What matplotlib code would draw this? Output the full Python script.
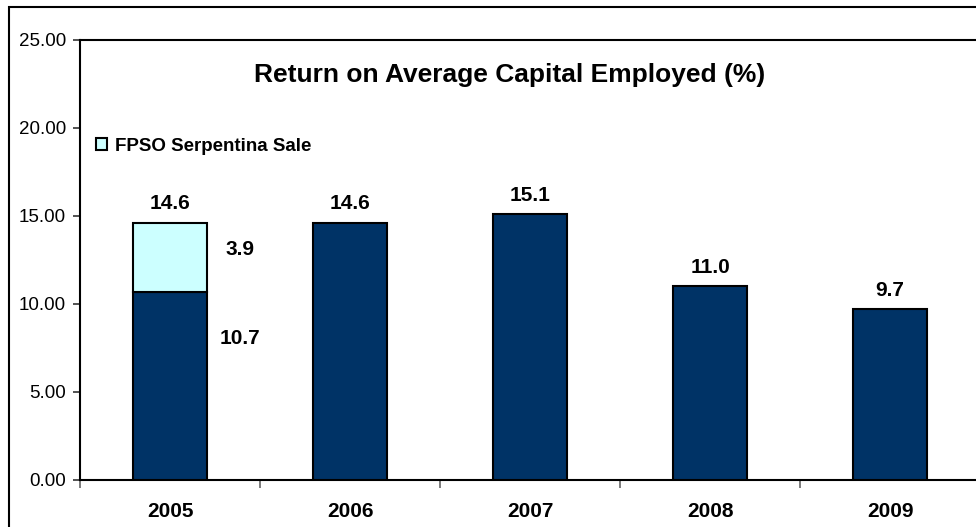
import matplotlib.pyplot as plt
from matplotlib.patches import Rectangle
import numpy as np

plt.rcParams['font.family'] = ['Liberation Sans', 'DejaVu Sans']

# Return on average capital employed, %
years = ['2005', '2006', '2007', '2008', '2009']
roace = [10.7, 14.6, 15.1, 11.0, 9.7]      # underlying return
serpentina = [3.9, 0, 0, 0, 0]             # one-off from FPSO Serpentina sale
totals = [14.6, 14.6, 15.1, 11.0, 9.7]
legend_label = 'FPSO Serpentina Sale'

navy = '#003366'
cyan = '#CCFFFF'

W, H = 976, 527
fig = plt.figure(figsize=(W / 100, H / 100), dpi=100)

# plot area runs past the right edge of the canvas
ax = fig.add_axes([80 / W, 1 - 480 / H, 900 / W, 440 / H])

x = np.arange(len(years))
bar_w = 0.41
base = ax.bar(x, roace, bar_w, color=navy, edgecolor='black', linewidth=1.5, zorder=3)
sale = ax.bar(x[:1], serpentina[:1], bar_w, bottom=roace[:1], color=cyan,
              edgecolor='black', linewidth=1.5, zorder=3, label=legend_label)

ax.set_xlim(-0.5, len(years) - 0.5)
ax.set_ylim(0, 25)
ax.set_yticks(np.arange(0, 26, 5))
ax.set_yticklabels([f'{v:.2f}' for v in np.arange(0, 26, 5)])
ax.tick_params(axis='y', direction='out', length=5, width=1.2, pad=5,
               labelsize=13.5, color='#333333')

ax.set_xticks(x)
ax.set_xticklabels(years, fontsize=15, fontweight='bold')
ax.tick_params(axis='x', which='major', length=0, pad=16)
ax.set_xticks(np.arange(-0.5, len(years)), minor=True)
ax.tick_params(axis='x', which='minor', direction='out', length=6, width=1.2,
               color='#666666')

for s in ax.spines.values():
    s.set_linewidth(1.5)

# totals above bars
for xi, t in zip(x, totals):
    ax.annotate(f'{t:.1f}', (xi, t), xytext=(0, 7), textcoords='offset points',
                ha='center', va='bottom', fontsize=15, fontweight='bold')

# split of the 2005 stack
ax.annotate(f'{serpentina[0]:.1f}', (x[0] + 0.39, roace[0] + serpentina[0] / 2),
            xytext=(0, 6), textcoords='offset points',
            ha='center', va='center', fontsize=15, fontweight='bold')
ax.annotate(f'{roace[0]:.1f}', (x[0] + 0.39, roace[0] * 0.75),
            ha='center', va='center', fontsize=15, fontweight='bold')

fig.text(510 / W, 1 - 75 / H, 'Return on Average Capital Employed (%)',
         ha='center', va='center', fontsize=19, fontweight='bold')

ax.legend(handles=[sale], loc='center left', bbox_to_anchor=(87 / W, 1 - 146 / H),
          bbox_transform=fig.transFigure, frameon=False, handlelength=0.55,
          handleheight=0.55, handletextpad=0.45, borderpad=0,
          prop={'size': 13.5, 'weight': 'bold'})

# chart area border
fig.patches.append(Rectangle((9 / W, -0.1), 1.2, 1 - 7 / H + 0.1,
                             transform=fig.transFigure, fill=False,
                             edgecolor='black', linewidth=1.5))

fig.savefig('out.png', dpi=100)
